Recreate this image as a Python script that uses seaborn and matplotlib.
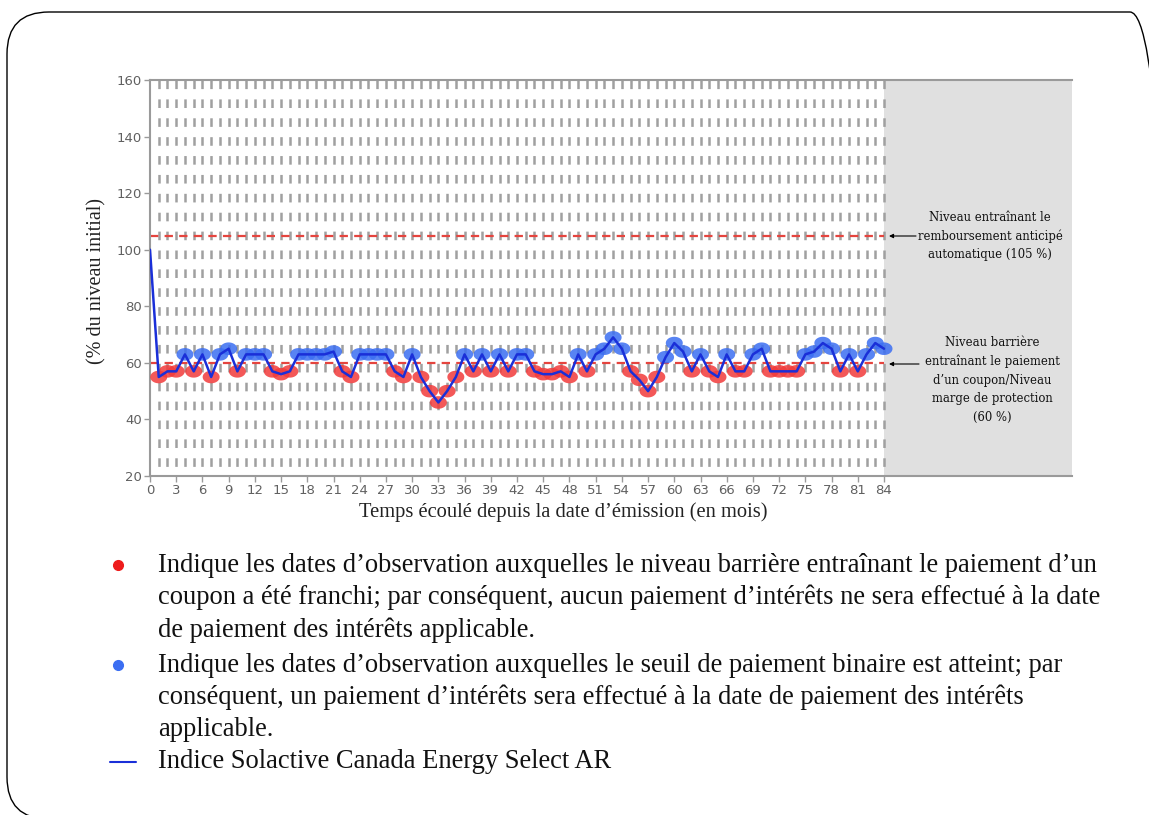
import numpy as np
import pandas as pd
import seaborn as sns
import matplotlib
matplotlib.use("Agg")
import matplotlib.pyplot as plt
from matplotlib.lines import Line2D
from matplotlib.patches import FancyBboxPatch
from matplotlib.transforms import IdentityTransform

# ---------------- data ----------------
months = list(range(0, 85))
index_level = [100, 55, 57, 57, 63, 57, 63, 55, 63, 65,
               57, 63, 63, 63, 57, 56, 57, 63, 63, 63,
               63, 64, 57, 55, 63, 63, 63, 63, 57, 55,
               63, 55, 50, 46, 50, 55, 63, 57, 63, 57,
               63, 57, 63, 63, 57, 56, 56, 57, 55, 63,
               57, 63, 65, 69, 65, 57, 54, 50, 55, 62,
               67, 64, 57, 63, 57, 55, 63, 57, 57, 63,
               65, 57, 57, 57, 57, 63, 64, 67, 65, 57,
               63, 57, 63, 67, 65]
x_ticks = list(range(0, 85, 3))
y_ticks = [20, 40, 60, 80, 100, 120, 140, 160]
barrier_level = 60
autocall_level = 105
last_observation = 84

df = pd.DataFrame({"month": months, "level": index_level})
df["status"] = np.where(df["level"] < barrier_level, "below", "above")

# ---------------- layout helpers ----------------
W, H = 1149, 815
def fx(px):
    return px / W
def fy(py):
    return 1 - py / H

sns.set_theme(style="white")
plt.rcParams["lines.scale_dashes"] = False

fig = plt.figure(figsize=(W / 100, H / 100), dpi=100)
fig.patch.set_facecolor("white")

# rounded frame
frame = FancyBboxPatch((7, -4), 1165, 807, boxstyle="round,pad=0,rounding_size=42",
                       transform=IdentityTransform(), facecolor="none",
                       edgecolor="black", linewidth=1.0, zorder=0)
fig.patches.append(frame)

x0_px, x1_px, y0_px, y1_px = 150, 1072, 80, 476
ax = fig.add_axes([fx(x0_px), fy(y1_px), (x1_px - x0_px) / W, (y1_px - y0_px) / H])
px_per_month = (884 - 150) / 84
xmax = (x1_px - x0_px) / px_per_month
ax.set_xlim(0, xmax)
ax.set_ylim(20, 160)
ax.set_facecolor("white")

ax.axvspan(last_observation, xmax, color="#e0e0e0", zorder=0, lw=0)

# vertical dashed grid at every month
ax.vlines(months[1:], 160, 20, colors="#a0a0a0", linewidth=1.8,
          linestyles=[(0, (6.2, 7.4))], zorder=1)

# barrier / autocall lines
ax.hlines([autocall_level, barrier_level], 0, last_observation, colors="#e5443e",
          linewidth=1.6, linestyles=[(0, (6, 4.5))], zorder=2)

# ellipse marker
t = np.linspace(0, 2 * np.pi, 40)
ellipse = list(zip(1.35 * np.cos(t), np.sin(t)))

dots = df[df["month"] > 0]
sns.scatterplot(data=dots, x="month", y="level", hue="status",
                palette={"below": "#f23b3b", "above": "#3b6ef2"},
                marker=ellipse, s=150, linewidth=0, alpha=0.85,
                legend=False, ax=ax, zorder=3)

sns.lineplot(data=df, x="month", y="level", color="#1a2fd8", linewidth=1.8,
             ax=ax, zorder=4)

ax.set_xticks(x_ticks)
ax.set_yticks(y_ticks)
ax.set_xlabel("")
ax.set_ylabel("")
ax.tick_params(axis="both", bottom=True, left=True, colors="#9a9a9a",
               labelcolor="#606060", labelsize=9.5, length=4, width=1, pad=2)
for lab in ax.get_xticklabels() + ax.get_yticklabels():
    lab.set_fontfamily("DejaVu Sans")
for side in ["left", "bottom", "top"]:
    ax.spines[side].set_color("#9a9a9a")
    ax.spines[side].set_linewidth(1.5)
    ax.spines[side].set_visible(True)
ax.spines["right"].set_visible(False)

# axis labels
fig.text(fx(97), fy(281), "(% du niveau initial)", rotation=90, ha="center", va="center",
         fontsize=14.5, family="Liberation Serif", color="#222222")
fig.text(fx(563), fy(512), "Temps écoulé depuis la date d’émission (en mois)",
         ha="center", va="center", fontsize=14.8, family="Liberation Serif", color="#222222")

# annotations in the grey area
fig.text(fx(990), fy(236), "Niveau entraînant le\nremboursement anticipé\nautomatique (105 %)",
         ha="center", va="center", multialignment="center", fontsize=8.4,
         family="DejaVu Serif", linespacing=1.55, color="#111111")
fig.text(fx(992), fy(380), "Niveau barrière\nentraînant le paiement\nd’un coupon/Niveau\nmarge de protection\n(60 %)",
         ha="center", va="center", multialignment="center", fontsize=8.4,
         family="DejaVu Serif", linespacing=1.55, color="#111111")
arrow_kw = dict(arrowstyle="-|>", color="black", lw=0.8, mutation_scale=6, shrinkA=0, shrinkB=0)
ax.annotate("", xy=(fx(889), fy(236)), xytext=(fx(916), fy(236)),
            xycoords="figure fraction", textcoords="figure fraction", arrowprops=arrow_kw)
ax.annotate("", xy=(fx(889), fy(364)), xytext=(fx(919), fy(364)),
            xycoords="figure fraction", textcoords="figure fraction", arrowprops=arrow_kw)

# bottom legend
fig.add_artist(Line2D([fx(118)], [fy(565)], marker="o", markersize=7, color="#ee1c1c",
                      linestyle="none", transform=fig.transFigure))
fig.add_artist(Line2D([fx(118)], [fy(665)], marker="o", markersize=7, color="#3b6ef2",
                      linestyle="none", transform=fig.transFigure))
fig.add_artist(Line2D([fx(110), fx(136)], [fy(762), fy(762)], color="#1a2fd8", lw=1.5,
                      transform=fig.transFigure))
legend_lines = [
    (565, "Indique les dates d’observation auxquelles le niveau barrière entraînant le paiement d’un"),
    (597, "coupon a été franchi; par conséquent, aucun paiement d’intérêts ne sera effectué à la date"),
    (630, "de paiement des intérêts applicable."),
    (665, "Indique les dates d’observation auxquelles le seuil de paiement binaire est atteint; par"),
    (697, "conséquent, un paiement d’intérêts sera effectué à la date de paiement des intérêts"),
    (729, "applicable."),
    (762, "Indice Solactive Canada Energy Select AR"),
]
for ypx, txt in legend_lines:
    fig.text(fx(158), fy(ypx), txt, ha="left", va="center", fontsize=19.1,
             family="Liberation Serif", color="#111111")

fig.savefig("out.png", dpi=100)
